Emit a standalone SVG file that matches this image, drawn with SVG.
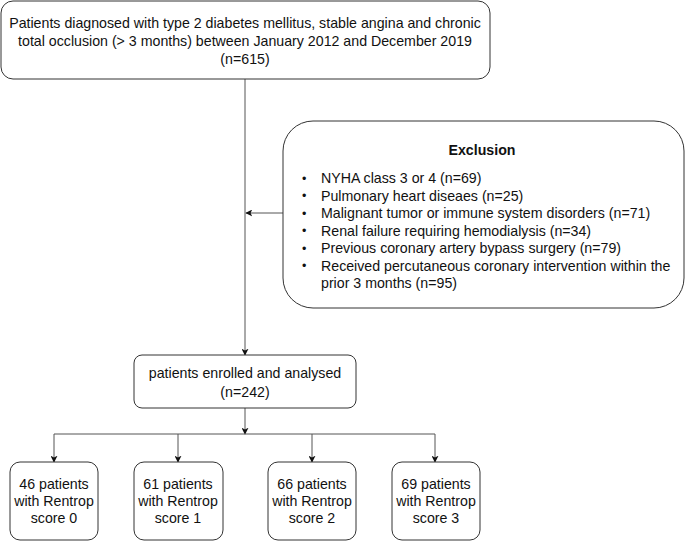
<svg xmlns="http://www.w3.org/2000/svg" width="685" height="542" viewBox="0 0 685 542">
<defs>
<style>
.box{fill:#fff;stroke:#333;stroke-width:1}
.t{font-family:"Liberation Sans",Arial,Helvetica,sans-serif;font-size:14.2px;fill:#111}
.c{text-anchor:middle}
.b{font-weight:bold}
.bu{font-size:12.5px}
.ln{fill:none;stroke:#555;stroke-width:1}
</style>
<marker id="ah" viewBox="0 0 10 10" refX="9" refY="5" markerWidth="7" markerHeight="7" orient="auto" markerUnits="userSpaceOnUse">
<path d="M0,0 L10,5 L0,10 L2.5,5 Z" fill="#111"/>
</marker>
</defs>
<rect width="685" height="542" fill="#fff"/>
<g id="connectors">
<line class="ln" x1="245" y1="79" x2="245" y2="355" marker-end="url(#ah)"/>
<line class="ln" x1="283" y1="213" x2="246" y2="213" marker-end="url(#ah)"/>
<line class="ln" x1="245" y1="408" x2="245" y2="434" marker-end="url(#ah)"/>
<line class="ln" x1="54" y1="434" x2="435" y2="434"/>
<line class="ln" x1="54" y1="434" x2="54" y2="462" marker-end="url(#ah)"/>
<line class="ln" x1="178" y1="434" x2="178" y2="462" marker-end="url(#ah)"/>
<line class="ln" x1="312" y1="434" x2="312" y2="462" marker-end="url(#ah)"/>
<line class="ln" x1="435" y1="434" x2="435" y2="462" marker-end="url(#ah)"/>
</g>
<g id="source">
<rect class="box" x="1" y="1" width="489" height="78" rx="12"/>
<text class="t c" x="245" y="28">Patients diagnosed with type 2 diabetes mellitus, stable angina and chronic</text>
<text class="t c" x="245" y="46">total occlusion (&gt; 3 months) between January 2012 and December 2019</text>
<text class="t c" x="245" y="64">(n=615)</text>
</g>
<g id="exclusion">
<rect class="box" x="283" y="121" width="401" height="187" rx="30"/>
<text class="t c b" x="482" y="155">Exclusion</text>
<g class="t">
<text class="bu" x="302" y="182.5">•</text><text x="321" y="183">NYHA class 3 or 4 (n=69)</text>
<text class="bu" x="302" y="200">•</text><text x="321" y="200.5">Pulmonary heart diseaes (n=25)</text>
<text class="bu" x="302" y="217.5">•</text><text x="321" y="218">Malignant tumor or immune system disorders (n=71)</text>
<text class="bu" x="302" y="235">•</text><text x="321" y="235.5">Renal failure requiring hemodialysis (n=34)</text>
<text class="bu" x="302" y="252.5">•</text><text x="321" y="253">Previous coronary artery bypass surgery (n=79)</text>
<text class="bu" x="302" y="270">•</text><text x="321" y="270.5">Received percutaneous coronary intervention within the</text>
<text x="321" y="288">prior 3 months (n=95)</text>
</g>
</g>
<g id="enrolled">
<rect class="box" x="134" y="355" width="222" height="53" rx="8"/>
<text class="t c" x="245" y="378">patients enrolled and analysed</text>
<text class="t c" x="245" y="397">(n=242)</text>
</g>
<g id="score0">
<rect class="box" x="10" y="462" width="88" height="78" rx="10"/>
<text class="t c" x="54" y="489">46 patients</text>
<text class="t c" x="54" y="506">with Rentrop</text>
<text class="t c" x="54" y="523">score 0</text>
</g>
<g id="score1">
<rect class="box" x="134" y="462" width="89" height="78" rx="10"/>
<text class="t c" x="178" y="489">61 patients</text>
<text class="t c" x="178" y="506">with Rentrop</text>
<text class="t c" x="178" y="523">score 1</text>
</g>
<g id="score2">
<rect class="box" x="268" y="462" width="88" height="78" rx="10"/>
<text class="t c" x="312" y="489">66 patients</text>
<text class="t c" x="312" y="506">with Rentrop</text>
<text class="t c" x="312" y="523">score 2</text>
</g>
<g id="score3">
<rect class="box" x="392" y="462" width="88" height="78" rx="10"/>
<text class="t c" x="436" y="489">69 patients</text>
<text class="t c" x="436" y="506">with Rentrop</text>
<text class="t c" x="436" y="523">score 3</text>
</g>
</svg>
